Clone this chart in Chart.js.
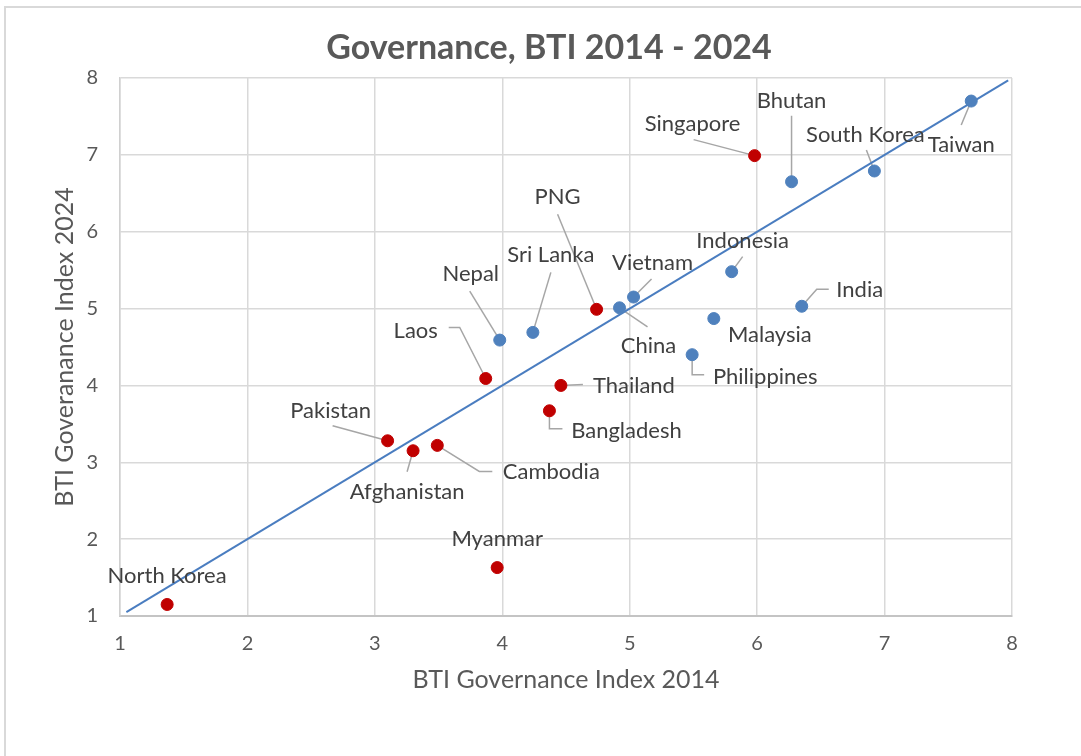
<!DOCTYPE html>
<html>
<head>
<meta charset="utf-8">
<script src="https://cdn.jsdelivr.net/npm/chart.js@4.4.1/dist/chart.umd.min.js"></script>
<style>
  html, body { margin: 0; padding: 0; background: #fff; }
  canvas { display: block; }
</style>
</head>
<body>
<canvas id="btiChart" width="1081" height="756"></canvas>
<script>
// values
const countries = ["North Korea", "Myanmar", "Pakistan", "Afghanistan", "Cambodia", "Laos", "Nepal",
  "Sri Lanka", "PNG", "China", "Vietnam", "Thailand", "Bangladesh", "Philippines", "Malaysia",
  "Indonesia", "India", "Singapore", "Bhutan", "South Korea", "Taiwan"];
const bti2014 = [1.37, 3.96, 3.10, 3.30, 3.49, 3.87, 3.98, 4.24, 4.74, 4.92, 5.03, 4.46, 4.37, 5.49, 5.66, 5.80, 6.35, 5.98, 6.27, 6.92, 7.68];
const bti2024 = [1.15, 1.63, 3.28, 3.15, 3.22, 4.09, 4.59, 4.69, 4.99, 5.01, 5.15, 4.00, 3.67, 4.40, 4.87, 5.48, 5.03, 6.99, 6.65, 6.79, 7.70];
const redGroup = ["North Korea", "Myanmar", "Pakistan", "Afghanistan", "Cambodia", "Laos", "PNG", "Thailand", "Bangladesh", "Singapore"];
const trendX = [1.05, 7.97];
const trendY = [1.05, 7.97];
const axisRange = [1, 8];

// label placement in pixels relative to each point: text centre, then leader line path
const labelLayout = {
  "North Korea": { text: [0, -29], leader: [] },
  "Myanmar": { text: [0, -29], leader: [] },
  "Singapore": { text: [-62, -32], leader: [[-61, -16], [0, 0]] },
  "Bhutan": { text: [0, -81], leader: [[0, -66], [0, 0]] },
  "South Korea": { text: [-9, -36], leader: [[-8, -21], [0, 0]] },
  "Taiwan": { text: [-10, 44], leader: [[-10, 24], [0, 0]] },
  "PNG": { text: [-39, -112], leader: [[-39, -95], [0, 0]] },
  "Sri Lanka": { text: [18, -77], leader: [[18, -60], [0, 0]] },
  "Nepal": { text: [-29, -66], leader: [[-30, -49], [0, 0]] },
  "Vietnam": { text: [19, -34], leader: [[18, -18], [0, 0]] },
  "Laos": { text: [-70, -48], leader: [[-37, -51], [-26, -51], [0, 0]] },
  "China": { text: [29, 38], leader: [[28, 19], [0, 0]] },
  "Indonesia": { text: [11, -31], leader: [[11, -15], [0, 0]] },
  "India": { text: [58, -16], leader: [[27, -17], [15, -17], [0, 0]] },
  "Malaysia": { text: [56, 16], leader: [] },
  "Philippines": { text: [73, 22], leader: [[12, 20], [0, 20], [0, 0]] },
  "Thailand": { text: [73, 0], leader: [[22, -1], [0, 0]] },
  "Bangladesh": { text: [77, 20], leader: [[13, 18], [0, 18], [0, 0]] },
  "Pakistan": { text: [-57, -30], leader: [[-55, -15], [0, 0]] },
  "Afghanistan": { text: [-6, 41], leader: [[-6, 21], [0, 0]] },
  "Cambodia": { text: [114, 27], leader: [[55, 26], [42, 26], [0, 0]] }
};

const RED = "#c00000";
const BLUE = "#4f81bd";

function groupPoints(isRed) {
  const pts = [], names = [];
  countries.forEach((c, i) => {
    if (redGroup.includes(c) === isRed) {
      pts.push({ x: bti2014[i], y: bti2024[i] });
      names.push(c);
    }
  });
  return { pts, names };
}
const reds = groupPoints(true);
const blues = groupPoints(false);

const frame = {
  id: "frame",
  beforeDraw(chart) {
    const ctx = chart.ctx;
    ctx.save();
    ctx.fillStyle = "#fff";
    ctx.fillRect(0, 0, chart.width, chart.height);
    ctx.strokeStyle = "#d9d9d9";
    ctx.lineWidth = 2;
    ctx.strokeRect(5, 7, 1200, 1000);
    ctx.fillStyle = "#595959";
    ctx.font = "bold 34px Lato";
    ctx.textAlign = "center";
    ctx.textBaseline = "middle";
    ctx.fillText("Governance, BTI 2014 - 2024", 549, 48);
    ctx.restore();
  }
};

const pointLabels = {
  id: "pointLabels",
  beforeDatasetsDraw(chart) {
    const ctx = chart.ctx;
    ctx.save();
    ctx.strokeStyle = "#a6a6a6";
    ctx.lineWidth = 1.5;
    chart.data.datasets.forEach((ds, di) => {
      if (!ds.names) return;
      chart.getDatasetMeta(di).data.forEach((el, i) => {
        const lay = labelLayout[ds.names[i]];
        if (!lay || lay.leader.length < 2) return;
        ctx.beginPath();
        lay.leader.forEach(([dx, dy], k) => {
          if (k === 0) ctx.moveTo(el.x + dx, el.y + dy);
          else ctx.lineTo(el.x + dx, el.y + dy);
        });
        ctx.stroke();
      });
    });
    ctx.restore();
  },
  afterDatasetsDraw(chart) {
    const ctx = chart.ctx;
    ctx.save();
    ctx.fillStyle = "#404040";
    ctx.font = "22px Lato";
    ctx.textAlign = "center";
    ctx.textBaseline = "middle";
    chart.data.datasets.forEach((ds, di) => {
      if (!ds.names) return;
      chart.getDatasetMeta(di).data.forEach((el, i) => {
        const lay = labelLayout[ds.names[i]];
        if (!lay) return;
        ctx.fillText(ds.names[i], el.x + lay.text[0], el.y + lay.text[1]);
      });
    });
    ctx.restore();
  }
};

new Chart(document.getElementById("btiChart"), {
  type: "scatter",
  data: {
    datasets: [
      {
        label: "Red",
        data: reds.pts,
        names: reds.names,
        backgroundColor: RED,
        borderColor: RED,
        pointRadius: 6,
        order: 1
      },
      {
        label: "Blue",
        data: blues.pts,
        names: blues.names,
        backgroundColor: BLUE,
        borderColor: BLUE,
        pointRadius: 6,
        order: 1
      },
      {
        type: "line",
        label: "Trend",
        data: trendX.map((x, i) => ({ x: x, y: trendY[i] })),
        borderColor: "#4a7dc0",
        borderWidth: 2,
        pointRadius: 0,
        fill: false,
        order: 2
      }
    ]
  },
  options: {
    responsive: false,
    animation: false,
    layout: { padding: { top: 78, right: 69, bottom: 0, left: 0 } },
    plugins: {
      legend: { display: false },
      tooltip: { enabled: false }
    },
    scales: {
      x: {
        type: "linear",
        min: axisRange[0],
        max: axisRange[1],
        afterFit(scale) { scale.height = 140; },
        ticks: {
          stepSize: 1,
          color: "#595959",
          padding: 16,
          font: { family: "Lato", size: 20 }
        },
        grid: { color: "#d9d9d9", lineWidth: 1.5, drawTicks: false },
        border: { color: "#c4c4c4", width: 2 },
        title: {
          display: true,
          text: "BTI Governance Index 2014",
          color: "#595959",
          font: { family: "Lato", size: 25 },
          padding: { top: 0, bottom: 61 }
        }
      },
      y: {
        type: "linear",
        min: axisRange[0],
        max: axisRange[1],
        afterFit(scale) { scale.width = 120; },
        ticks: {
          stepSize: 1,
          color: "#595959",
          padding: 22,
          font: { family: "Lato", size: 20 }
        },
        grid: { color: "#d9d9d9", lineWidth: 1.5, drawTicks: false },
        border: { color: "#d0d0d0", width: 1.5 },
        title: {
          display: true,
          text: "BTI Goveranance Index 2024",
          color: "#595959",
          font: { family: "Lato", size: 25 },
          padding: { top: 50, bottom: 0 }
        }
      }
    }
  },
  plugins: [frame, pointLabels]
});
</script>
</body>
</html>
